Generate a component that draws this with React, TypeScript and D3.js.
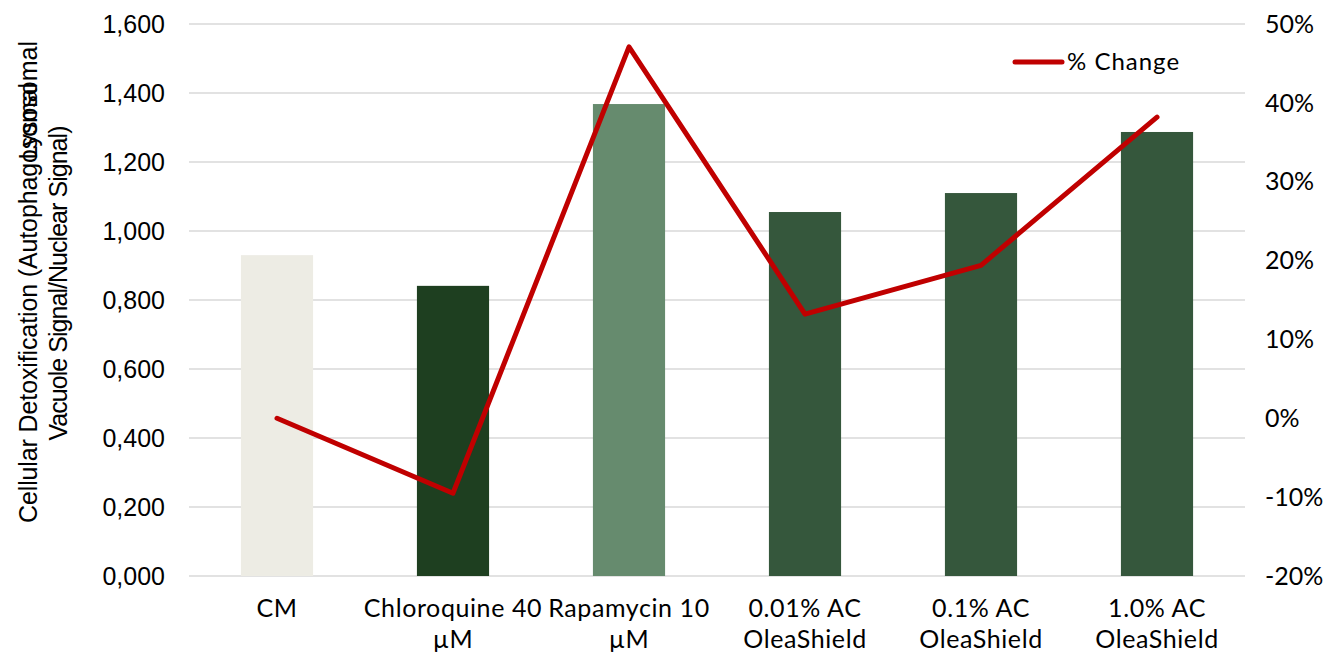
import * as d3 from 'd3'
import * as React from 'react'

const WIDTH = 1329
const HEIGHT = 653

//------------------------------data------------------------------
const categories = [
  ['CM'],
  ['Chloroquine 40', 'µM'],
  ['Rapamycin 10', 'µM'],
  ['0.01% AC', 'OleaShield'],
  ['0.1% AC', 'OleaShield'],
  ['1.0% AC', 'OleaShield']
]
const signalValues = [930, 841, 1368, 1055, 1110, 1287]
const pctChange = [0, -9.5, 47.1, 13.2, 19.4, 38.2]
const barColors = ['#EDECE4', '#1E3F20', '#668B6E', '#35573C', '#35573C', '#35573C']
const leftTicks = [0, 200, 400, 600, 800, 1000, 1200, 1400, 1600]
const rightTicks = [-20, -10, 0, 10, 20, 30, 40, 50]

const margin = { left: 189, right: 1245, top: 24, bottom: 576 }
const labelFont = 'Lato, "Open Sans", sans-serif'
const numFont = '"Liberation Sans", Arial, sans-serif'

//------------------------------Component------------------------------
export default function App() {
  const x = d3
    .scaleBand<string>()
    .domain(categories.map(c => c.join(' ')))
    .range([margin.left, margin.right])
    .paddingInner(0.59)
    .paddingOuter(0.295)
  const yLeft = d3.scaleLinear().domain([0, 1600]).range([margin.bottom, margin.top])
  const yRight = d3.scaleLinear().domain([-20, 50]).range([margin.bottom, margin.top])
  const cx = (i: number) => (x(categories[i].join(' ')) as number) + x.bandwidth() / 2

  const line = d3
    .line<number>()
    .x((_, i) => cx(i))
    .y(d => yRight(d))

  // 0,000 style labels: thousands before the comma, three decimals after
  const fmt = (t: number) =>
    t === 0 ? '0,000' : t < 1000 ? '0,' + String(t).padStart(3, '0') : d3.format(',')(t)

  return (
    <svg
      width={WIDTH}
      height={HEIGHT}
      style={{ position: 'absolute', left: 0, top: 0, background: '#fff' }}
    >
      {/* gridlines */}
      {leftTicks.map(t => (
        <line
          key={t}
          x1={margin.left}
          x2={margin.right}
          y1={yLeft(t)}
          y2={yLeft(t)}
          stroke="#D9D9D9"
          strokeWidth={1.5}
        />
      ))}
      {/* left ticks */}
      {leftTicks.map(t => (
        <text
          key={t}
          x={165}
          y={yLeft(t)}
          dy="0.35em"
          textAnchor="end"
          fontFamily={numFont}
          fontSize={25}
          fill="#000"
        >
          {fmt(t)}
        </text>
      ))}
      {/* right ticks */}
      {rightTicks.map(t => (
        <text
          key={t}
          x={1265}
          y={yRight(t)}
          dy="0.35em"
          fontFamily={labelFont}
          fontSize={25}
          fill="#000"
        >
          {t + '%'}
        </text>
      ))}
      {/* bars */}
      {signalValues.map((v, i) => (
        <rect
          key={i}
          x={x(categories[i].join(' '))}
          y={yLeft(v)}
          width={x.bandwidth()}
          height={yLeft(0) - yLeft(v)}
          fill={barColors[i]}
        />
      ))}
      {/* line */}
      <path
        d={line(pctChange) || ''}
        fill="none"
        stroke="#C00000"
        strokeWidth={5}
        strokeLinecap="round"
        strokeLinejoin="round"
      />
      {/* x labels */}
      {categories.map((c, i) =>
        c.map((t, j) => (
          <text
            key={i + '-' + j}
            x={cx(i)}
            y={617 + j * 31}
            textAnchor="middle"
            fontFamily={labelFont}
            fontSize={25}
            letterSpacing={0.6}
            fill="#000"
          >
            {t}
          </text>
        ))
      )}
      {/* legend */}
      <line x1={1015} x2={1062} y1={62} y2={62} stroke="#C00000" strokeWidth={5} strokeLinecap="round" />
      <text x={1067} y={62} dy="0.35em" fontFamily={labelFont} fontSize={24} letterSpacing={1} fill="#000">
        % Change
      </text>
      {/* y axis title */}
      <g transform="translate(37,283) rotate(-90)" fontFamily={numFont} fontSize={25} fill="#000">
        <text x={-240} textLength={440} lengthAdjust="spacing">
          Cellular Detoxification (Autophagosomal
        </text>
        <text x={242} textAnchor="end">
          Lysosomal
        </text>
        <text x={0} y={30} textAnchor="middle" textLength={315} lengthAdjust="spacing">
          Vacuole Signal/Nuclear Signal)
        </text>
      </g>
    </svg>
  )
}
